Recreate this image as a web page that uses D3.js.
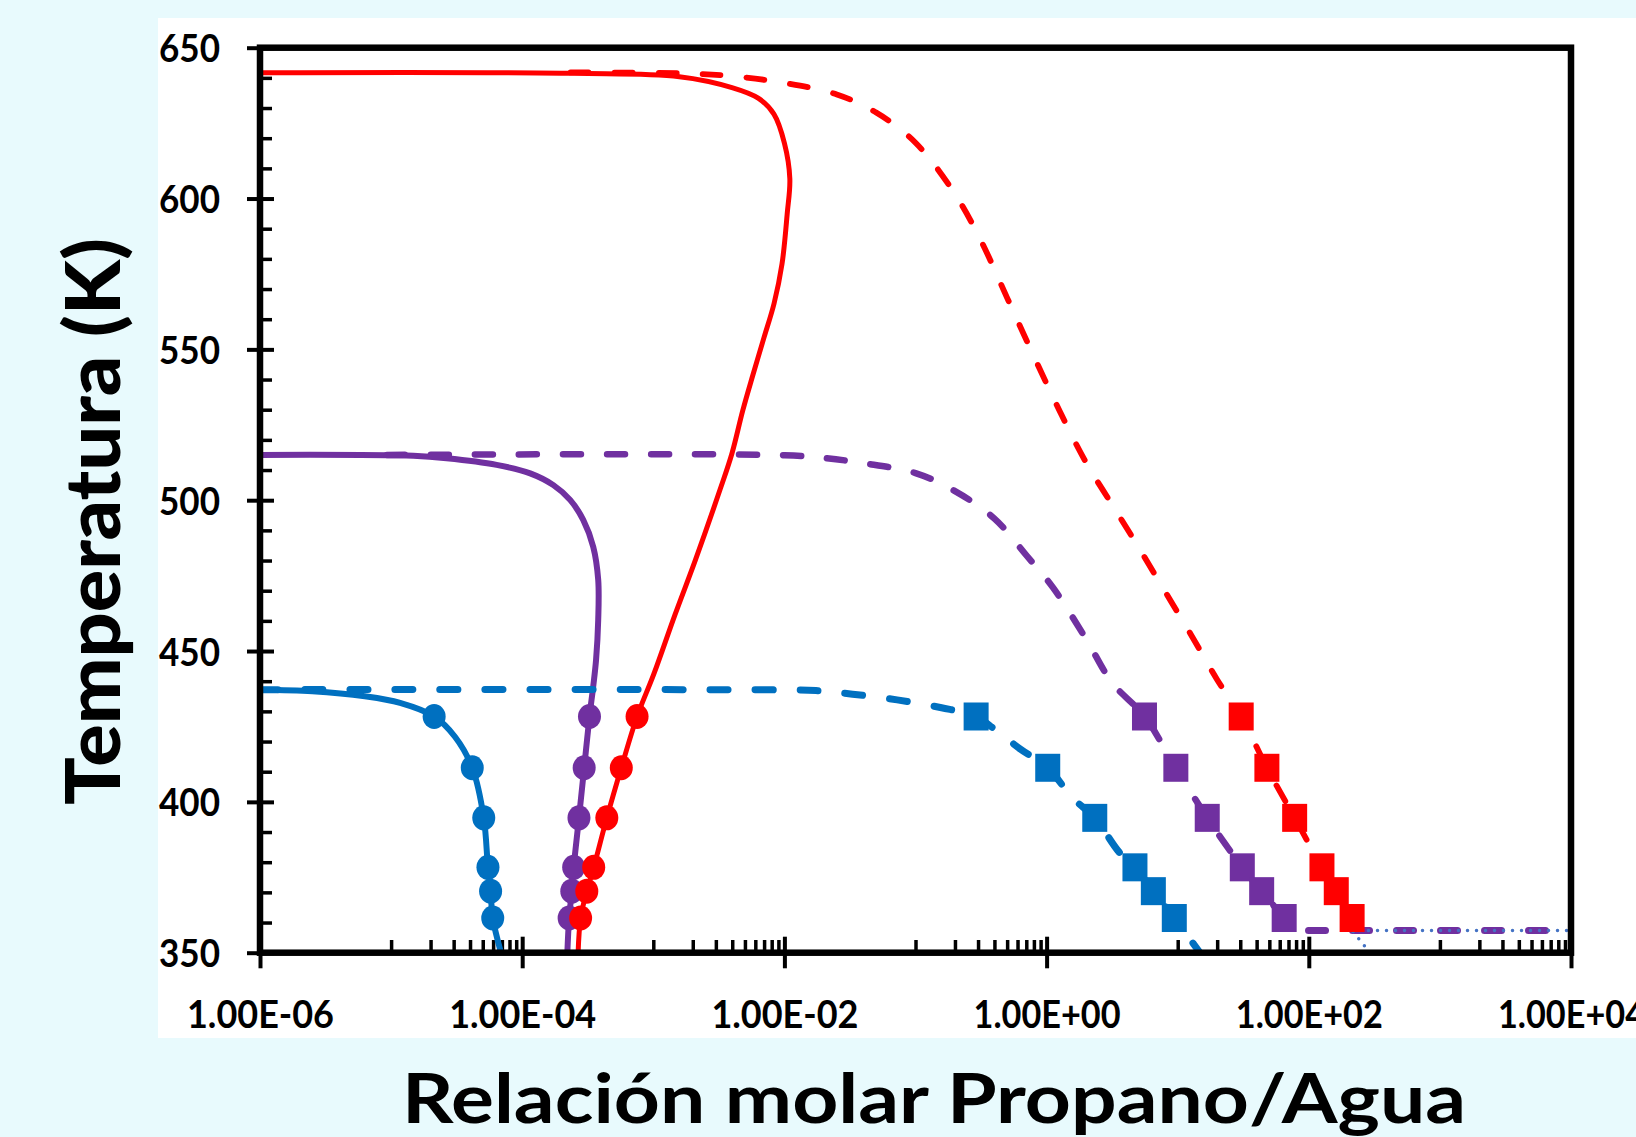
<!DOCTYPE html>
<html>
<head>
<meta charset="utf-8">
<script src="https://cdn.jsdelivr.net/npm/d3@7"></script>
<style>
  html, body { margin: 0; padding: 0; background: #e8fafd; }
  svg { display: block; }
</style>
</head>
<body>
<svg id="chart" width="1636" height="1137"></svg>
<script>
// Temperatures of the measured equilibrium points (K)
const pointTemps = [428.3, 411.3, 394.7, 378.3, 370.4, 361.5];

// Water-rich phase: measured propane/water molar ratio (circles)
const liquidBlue   = [2.13e-5, 4.16e-5, 5.09e-5, 5.48e-5, 5.74e-5, 5.96e-5];
const liquidPurple = [3.26e-4, 2.97e-4, 2.71e-4, 2.47e-4, 2.39e-4, 2.28e-4];
const liquidRed    = [7.52e-4, 5.70e-4, 4.42e-4, 3.51e-4, 3.11e-4, 2.79e-4];

// Propane-rich phase: measured propane/water molar ratio (squares)
const vaporBlue   = [0.290, 1.02, 2.33, 4.72, 6.52, 9.42];
const vaporPurple = [5.58, 9.68, 16.8, 31.1, 43.7, 64.9];
const vaporRed    = [30.5, 47.9, 78.0, 126, 162, 214];

// Model curves between the measured points, [ratio, T]
const modelLiquidBlue = [[1e-6, 437.2], [2.51e-6, 436.7], [6.31e-6, 435.0], [1.17e-5, 432.8],
  [3.07e-5, 421.6], [6.89e-5, 350]];
const modelLiquidPurple = [[1e-6, 515.0], [1.48e-5, 514.7], [2.65e-5, 513.9], [6.38e-5, 511.7],
  [1.15e-4, 508.9], [1.73e-4, 505.0], [2.32e-4, 500.1], [2.92e-4, 493.5], [3.48e-4, 484.6],
  [3.80e-4, 473.6], [3.80e-4, 460.3], [3.66e-4, 447.1], [3.48e-4, 438.2], [2.21e-4, 350]];
const modelLiquidRed = [[1e-6, 641.7], [2.51e-4, 641.5], [1.58e-3, 640.4], [3.98e-3, 636.8],
  [6.31e-3, 633.3], [8.32e-3, 628.0], [1.0e-2, 618.4], [1.10e-2, 606.6], [1.05e-2, 594.9],
  [9.59e-3, 578.3], [8.34e-3, 565.2], [6.93e-3, 553.4], [5.75e-3, 541.5], [4.81e-3, 529.7],
  [3.98e-3, 515.5], [3.24e-3, 503.7], [2.10e-3, 480.3], [1.46e-3, 461.9],
  [1.01e-3, 442.4], [2.67e-4, 350]];

const modelVaporBlue = [[1e-6, 437.2], [1e-2, 437.1], [1.74e-2, 436.9], [3.31e-2, 435.7],
  [7.24e-2, 433.8], [0.158, 431.2], [0.398, 424.2], [0.631, 417.5], [1.58, 401.3],
  [3.55, 383.5], [14.8, 350]];
const modelVaporPurple = [[9.3e-6, 515.0], [1e-2, 514.9], [2.0e-2, 514.0], [3.98e-2, 512.3],
  [0.1, 509.0], [0.2, 503.0], [0.398, 494.0], [0.708, 481.5], [1.12, 471.0], [2.0, 454.0],
  [3.16, 439.5]];
const modelVaporRed = [[2.34e-4, 641.8], [1.58e-3, 641.5], [3.98e-3, 640.6], [1.0e-2, 638.3],
  [2.51e-2, 634.5], [5.01e-2, 628.5], [0.1, 618.5], [0.2, 601.5], [0.316, 586.0], [0.501, 567.0],
  [0.794, 548.0], [1.26, 529.5], [2.0, 512.5], [3.16, 498.5], [5.01, 484.5], [7.94, 470.0],
  [12.6, 455.5], [20.0, 440.5]];

// Three-phase lines near the bottom of the chart
const threePhasePurple = [[99.5, 357.4], [1e4, 357.4]];
const threePhaseBlue = [[293, 350], [214, 357.4], [1e4, 357.4]];

// Axis ticks
const xTicks = [1e-6, 1e-4, 1e-2, 1, 1e2, 1e4];
const xTickLabels = ["1.00E-06", "1.00E-04", "1.00E-02", "1.00E+00", "1.00E+02", "1.00E+04"];
const xMinorDecades = [1e-5, 1e-3, 1e-1, 1e1, 1e3];
const yTicks = [350, 400, 450, 500, 550, 600, 650];
const yMinorTicks = [360, 370, 380, 390, 410, 420, 430, 440, 460, 470, 480, 490,
  510, 520, 530, 540, 560, 570, 580, 590, 610, 620, 630, 640];

const colors = { blue: "#0070c0", purple: "#7030a0", red: "#ff0000", dots: "#4472c4" };
const FONT = "Lato, 'Open Sans', 'DejaVu Sans', sans-serif";

const W = 1636, H = 1137;
const plot = { left: 260, right: 1571, top: 47.7, bottom: 952.7 };

const svg = d3.select("#chart");
svg.append("rect").attr("width", W).attr("height", H).attr("fill", "#e8fafd");
svg.append("rect").attr("x", 158).attr("y", 18).attr("width", W - 158).attr("height", 1020)
  .attr("fill", "#ffffff");

const x = d3.scaleLog().domain([1e-6, 1e4]).range([plot.left, plot.right]);
const y = d3.scaleLinear().domain([350, 650]).range([plot.bottom, plot.top]);

svg.append("defs").append("clipPath").attr("id", "plotClip")
  .append("rect").attr("x", plot.left).attr("y", plot.top - 4)
  .attr("width", plot.right - plot.left).attr("height", plot.bottom - plot.top + 4);

// ---- axes ----
function styleTicks(g, width) {
  g.select(".domain").remove();
  g.selectAll(".tick line").attr("stroke", "#000").attr("stroke-width", width);
}

const yOut = svg.append("g").attr("transform", `translate(${plot.left},0)`)
  .call(d3.axisLeft(y).tickValues(yTicks).tickSize(13).tickPadding(27).tickFormat(d => d));
styleTicks(yOut, 4);
yOut.selectAll(".tick text")
  .attr("dy", null).attr("y", 14)
  .attr("font-family", FONT).attr("font-weight", 700).attr("font-size", 39)
  .attr("fill", "#000").attr("textLength", 61).attr("lengthAdjust", "spacingAndGlyphs");

const yIn = svg.append("g").attr("transform", `translate(${plot.left},0)`)
  .call(d3.axisRight(y).tickValues(yTicks).tickSize(14).tickFormat(""));
styleTicks(yIn, 4);
const yMinor = svg.append("g").attr("transform", `translate(${plot.left},0)`)
  .call(d3.axisRight(y).tickValues(yMinorTicks).tickSize(12).tickFormat(""));
styleTicks(yMinor, 3.5);

const xOut = svg.append("g").attr("transform", `translate(0,${plot.bottom})`)
  .call(d3.axisBottom(x).tickValues(xTicks).tickSize(15.6).tickFormat((d, i) => xTickLabels[i]));
styleTicks(xOut, 4);
xOut.selectAll(".tick text")
  .attr("dy", null).attr("y", 1028 - plot.bottom)
  .attr("font-family", FONT).attr("font-weight", 700).attr("font-size", 39)
  .attr("fill", "#000").attr("textLength", 147).attr("lengthAdjust", "spacingAndGlyphs");

const xIn = svg.append("g").attr("transform", `translate(0,${plot.bottom})`)
  .call(d3.axisTop(x).tickValues(xTicks).tickSize(16).tickFormat(""));
styleTicks(xIn, 4);
const xMinorValues = xMinorDecades.flatMap(d => d3.range(1, 10).map(k => k * d));
const xMinor = svg.append("g").attr("transform", `translate(0,${plot.bottom})`)
  .call(d3.axisTop(x).tickValues(xMinorValues).tickSize(12.7).tickFormat(""));
styleTicks(xMinor, 3.5);

// ---- curves ----
const line = d3.line()
  .x(d => x(d[0])).y(d => y(d[1]))
  .curve(d3.curveCatmullRom.alpha(0.5));

// merge model points with the measured points, ordered from high to low temperature
function withPoints(model, ratios) {
  return model.concat(d3.zip(ratios, pointTemps)).sort((a, b) => b[1] - a[1]);
}

const curves = svg.append("g").attr("clip-path", "url(#plotClip)")
  .attr("fill", "none").attr("stroke-linecap", "round").attr("stroke-linejoin", "round");

const solidSeries = [
  { data: withPoints(modelLiquidBlue, liquidBlue), color: colors.blue, width: 6 },
  { data: withPoints(modelLiquidPurple, liquidPurple), color: colors.purple, width: 6 },
  { data: withPoints(modelLiquidRed, liquidRed), color: colors.red, width: 5 }
];
const dashedSeries = [
  { data: withPoints(modelVaporBlue, vaporBlue), color: colors.blue, width: 7, dash: "18,27" },
  { data: withPoints(modelVaporPurple, vaporPurple), color: colors.purple, width: 6.5, dash: "18,26" },
  { data: withPoints(modelVaporRed, vaporRed), color: colors.red, width: 5.8, dash: "18,26" }
];

curves.selectAll("path.solid").data(solidSeries).join("path")
  .attr("class", "solid")
  .attr("d", d => line(d.data)).attr("stroke", d => d.color).attr("stroke-width", d => d.width);

curves.selectAll("path.dashed").data(dashedSeries).join("path")
  .attr("class", "dashed")
  .attr("d", d => line(d.data)).attr("stroke", d => d.color).attr("stroke-width", d => d.width)
  .attr("stroke-dasharray", d => d.dash);

const straight = d3.line().x(d => x(d[0])).y(d => y(d[1]));
curves.append("path").attr("d", straight(threePhasePurple))
  .attr("stroke", colors.purple).attr("stroke-width", 7).attr("stroke-dasharray", "17,27");
curves.append("path").attr("d", straight(threePhaseBlue))
  .attr("stroke", colors.dots).attr("stroke-width", 3.5).attr("stroke-dasharray", "0,9");

// ---- markers ----
const markers = svg.append("g");
const circleSets = [
  { ratios: liquidBlue, color: colors.blue },
  { ratios: liquidPurple, color: colors.purple },
  { ratios: liquidRed, color: colors.red }
];
const squareSets = [
  { ratios: vaporBlue, color: colors.blue },
  { ratios: vaporPurple, color: colors.purple },
  { ratios: vaporRed, color: colors.red }
];
circleSets.forEach(s => {
  markers.append("g").selectAll("ellipse").data(d3.zip(s.ratios, pointTemps)).join("ellipse")
    .attr("cx", d => x(d[0])).attr("cy", d => y(d[1]))
    .attr("rx", 11.5).attr("ry", 12.5).attr("fill", s.color);
});
squareSets.forEach(s => {
  markers.append("g").selectAll("rect").data(d3.zip(s.ratios, pointTemps)).join("rect")
    .attr("x", d => x(d[0]) - 12.5).attr("y", d => y(d[1]) - 14)
    .attr("width", 25).attr("height", 28).attr("fill", s.color);
});

// ---- frame ----
svg.append("rect")
  .attr("x", plot.left).attr("y", plot.top)
  .attr("width", plot.right - plot.left).attr("height", plot.bottom - plot.top)
  .attr("fill", "none").attr("stroke", "#000").attr("stroke-width", 6.5);

// ---- titles ----
svg.append("text")
  .attr("x", 934).attr("y", 1123)
  .attr("text-anchor", "middle")
  .attr("font-family", FONT).attr("font-weight", 700).attr("font-size", 68)
  .attr("textLength", 1064).attr("lengthAdjust", "spacingAndGlyphs")
  .text("Relación molar Propano/Agua");

svg.append("text")
  .attr("transform", "translate(120,521.5) rotate(-90)")
  .attr("text-anchor", "middle")
  .attr("font-family", FONT).attr("font-weight", 900).attr("font-size", 76)
  .attr("textLength", 567).attr("lengthAdjust", "spacingAndGlyphs")
  .text("Temperatura (K)");
</script>
</body>
</html>
